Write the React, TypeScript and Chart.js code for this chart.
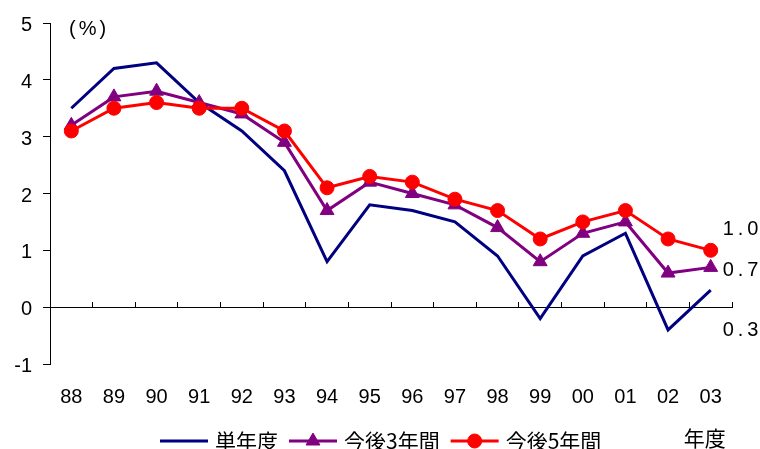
import React, { useEffect, useRef } from 'react';
import { Chart, registerables } from 'chart.js';

Chart.register(...registerables);

// ---- data ----
const years = ['88', '89', '90', '91', '92', '93', '94', '95', '96', '97', '98', '99', '00', '01', '02', '03'];
const singleYear = [3.5, 4.2, 4.3, 3.6, 3.1, 2.4, 0.8, 1.8, 1.7, 1.5, 0.9, -0.2, 0.9, 1.3, -0.4, 0.3];
const next3Years = [3.2, 3.7, 3.8, 3.6, 3.4, 2.9, 1.7, 2.2, 2.0, 1.8, 1.4, 0.8, 1.3, 1.5, 0.6, 0.7];
const next5Years = [3.1, 3.5, 3.6, 3.5, 3.5, 3.1, 2.1, 2.3, 2.2, 1.9, 1.7, 1.2, 1.5, 1.7, 1.2, 1.0];
const seriesNames = ['単年度', '今後3年間', '今後5年間'];
const yMin = -1;
const yMax = 5;
const yStep = 1;
const unitLabel = '(%)';
const xAxisTitle = '年度';

const NUM_FONT = '"Liberation Sans", Arial, sans-serif';
const JP_FONT = '"Noto Sans CJK JP", "Noto Sans", sans-serif';

const extrasPlugin = {
  id: 'extras',
  afterDraw(chart: any) {
    const ctx: CanvasRenderingContext2D = chart.ctx;
    const xs = chart.scales.x;
    const ys = chart.scales.y;
    const area = chart.chartArea;
    ctx.save();
    ctx.fillStyle = '#000';
    ctx.textBaseline = 'middle';
    ctx.textAlign = 'left';

    // unit label
    ctx.font = `20px ${NUM_FONT}`;
    (ctx as any).letterSpacing = '3px';
    ctx.fillText(unitLabel, area.left + 19, area.top + 6);

    // end-of-series value labels
    (ctx as any).letterSpacing = '4px';
    const lastIdx = years.length - 1;
    const endOffsets = [40, 3, -21];
    chart.data.datasets.forEach((ds: any, i: number) => {
      const v = ds.data[lastIdx] as number;
      const py = ys.getPixelForValue(v) + endOffsets[i];
      ctx.fillText(v.toFixed(1), xs.getPixelForValue(lastIdx) + 12, py);
    });
    (ctx as any).letterSpacing = '0px';

    // legend
    const ly = 441;
    let cx = 160;
    const lineLen = 48;
    chart.data.datasets.forEach((ds: any) => {
      ctx.strokeStyle = ds.borderColor;
      ctx.lineWidth = 3;
      ctx.beginPath();
      ctx.moveTo(cx, ly);
      ctx.lineTo(cx + lineLen, ly);
      ctx.stroke();
      const mx = cx + lineLen / 2;
      const r = ds.pointRadius;
      if (r > 0) {
        ctx.fillStyle = ds.pointBackgroundColor;
        ctx.strokeStyle = ds.pointBorderColor;
        ctx.lineWidth = 1;
        ctx.beginPath();
        if (ds.pointStyle === 'triangle') {
          ctx.moveTo(mx, ly - r);
          ctx.lineTo(mx + Math.sin((2 * Math.PI) / 3) * r, ly + 0.5 * r);
          ctx.lineTo(mx - Math.sin((2 * Math.PI) / 3) * r, ly + 0.5 * r);
          ctx.closePath();
        } else {
          ctx.arc(mx, ly, r, 0, Math.PI * 2);
        }
        ctx.fill();
        ctx.stroke();
      }
      cx += lineLen + 7;
      ctx.fillStyle = '#000';
      ctx.font = `21px ${JP_FONT}`;
      ctx.fillText(ds.label, cx, ly);
      cx += ctx.measureText(ds.label).width + 11;
    });

    // x axis title
    ctx.font = `21px ${JP_FONT}`;
    ctx.fillText(xAxisTitle, xs.getPixelForValue(lastIdx) - 27, 438);

    ctx.restore();
  },
};

export default function App() {
  const ref = useRef<HTMLCanvasElement>(null);

  useEffect(() => {
    document.body.style.margin = '0';
    const chart = new Chart(ref.current as HTMLCanvasElement, {
      type: 'line',
      data: {
        labels: years,
        datasets: [
          {
            label: seriesNames[0],
            data: singleYear,
            borderColor: '#000080',
            backgroundColor: '#000080',
            borderWidth: 3,
            pointRadius: 0,
            pointStyle: 'circle',
            pointBackgroundColor: '#000080',
            pointBorderColor: '#000080',
            tension: 0,
            order: 2,
          },
          {
            label: seriesNames[1],
            data: next3Years,
            borderColor: '#800080',
            backgroundColor: '#800080',
            borderWidth: 3,
            pointRadius: 8,
            pointStyle: 'triangle',
            pointBackgroundColor: '#800080',
            pointBorderColor: '#800080',
            pointBorderWidth: 1,
            tension: 0,
            order: 1,
          },
          {
            label: seriesNames[2],
            data: next5Years,
            borderColor: '#ff0000',
            backgroundColor: '#ff0000',
            borderWidth: 3,
            pointRadius: 7,
            pointStyle: 'circle',
            pointBackgroundColor: '#ff0000',
            pointBorderColor: '#ff0000',
            pointBorderWidth: 1,
            tension: 0,
            order: 0,
          },
        ] as any,
      },
      options: {
        animation: false,
        responsive: true,
        maintainAspectRatio: false,
        events: [],
        layout: { padding: { top: 20, right: 28, left: 0, bottom: 0 } },
        plugins: {
          legend: { display: false },
          tooltip: { enabled: false },
        },
        scales: {
          x: {
            type: 'category',
            position: 'bottom',
            offset: true,
            grid: { display: false, drawTicks: false },
            border: { display: false },
            ticks: {
              color: '#000',
              font: { family: NUM_FONT, size: 20 },
              padding: 21,
              maxRotation: 0,
              autoSkip: false,
            },
            afterFit: (s: any) => {
              s.height = 85;
            },
          },
          x2: {
            type: 'category',
            axis: 'x',
            labels: years,
            position: { y: 0 },
            offset: true,
            grid: {
              offset: true,
              drawOnChartArea: false,
              drawTicks: true,
              tickLength: -6,
              color: '#000',
              lineWidth: 1,
            },
            border: { display: true, color: '#000', width: 1 },
            ticks: { display: false },
          },
          y: {
            min: yMin,
            max: yMax,
            grid: {
              drawOnChartArea: false,
              drawTicks: true,
              tickLength: 7,
              color: '#000',
              lineWidth: 1,
            },
            border: { display: true, color: '#000', width: 1 },
            ticks: {
              stepSize: yStep,
              color: '#000',
              font: { family: NUM_FONT, size: 20 },
              padding: 11,
              labelOffset: 2.5,
            },
            afterFit: (s: any) => {
              s.width = 50;
            },
          },
        } as any,
      },
      plugins: [extrasPlugin],
    });
    return () => chart.destroy();
  }, []);

  return (
    <div style={{ width: 760, height: 449, position: 'relative' }}>
      <canvas ref={ref} />
    </div>
  );
}
